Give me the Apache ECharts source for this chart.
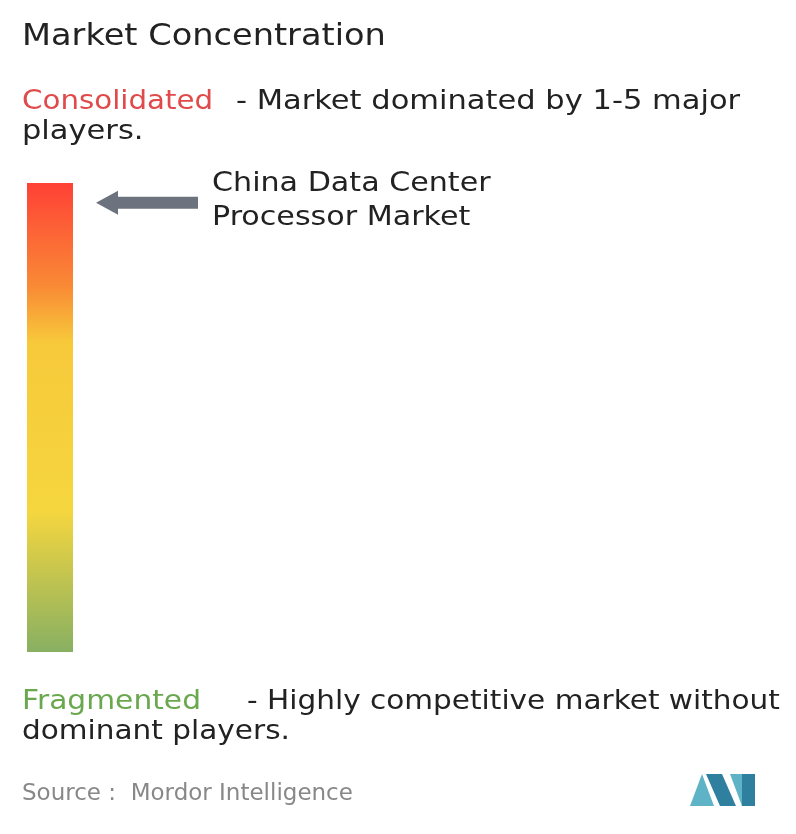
<!DOCTYPE html>
<html><head><meta charset="utf-8">
<script src="https://cdn.jsdelivr.net/npm/echarts@6/dist/echarts.min.js"></script>
<style>html,body{margin:0;padding:0;background:#fff}#c{width:796px;height:834px}</style>
</head><body><div id="c"></div>
<script>
const title = "Market Concentration";
const topLabel = "Consolidated";
const topDesc = ["- Market dominated by 1-5 major", "players."];
const bottomLabel = "Fragmented";
const bottomDesc = ["- Highly competitive market without", "dominant players."];
const marketName = ["China Data Center", "Processor Market"];
const sourceText = "Source :  Mordor Intelligence";
const gradientStops = [[0,'#ff4136'],[0.22,'#f98a35'],[0.34,'#f7c93a'],[0.7,'#f5d63f'],[1,'#88b062']];
const concentration = 0.96; // 1 = fully consolidated

const chart = echarts.init(document.getElementById('c'));
const F = '"DejaVu Sans", sans-serif';
const barTop = 183, barH = 469;
const arrowY = barTop + (1 - concentration) * barH + 1;
function txt(x, y, t, color, size, sx) {
  return {type:'text', x:x, y:y, scaleX:sx||1,
    style:{text:t, x:0, y:0, fill:color, font:`${size}px ${F}`, verticalAlign:'top', align:'left'}};
}
chart.setOption({
  graphic: [
    txt(22, 22, title, '#222', 30, 1.12),
    txt(22, 88, topLabel, '#e04a4a', 27, 1.085),
    txt(236, 88, topDesc[0], '#222', 27, 1.13),
    txt(22, 118, topDesc[1], '#222', 27, 1.13),
    {type:'rect', shape:{x:27, y:barTop, width:46, height:barH},
     style:{fill:new echarts.graphic.LinearGradient(0,0,0,1,gradientStops.map(s=>({offset:s[0],color:s[1]})))}},
    {type:'polygon', shape:{points:[[96,arrowY],[118,arrowY-12],[118,arrowY-6],[198,arrowY-6],[198,arrowY+6],[118,arrowY+6],[118,arrowY+12]]}, style:{fill:'#6d737e'}},
    txt(212, 170, marketName[0], '#222', 27, 1.116),
    txt(212, 204, marketName[1], '#222', 27, 1.116),
    txt(22, 688, bottomLabel, '#6aa84f', 27, 1.1),
    txt(247, 688, bottomDesc[0], '#222', 27, 1.094),
    txt(22, 718, bottomDesc[1], '#222', 27, 1.094),
    txt(22, 783, sourceText, '#888', 23, 1.0),
    {type:'polygon', shape:{points:[[690,806],[702,774],[714,806]]}, style:{fill:'#5fb3c6'}},
    {type:'polygon', shape:{points:[[706,774],[722,774],[736,806],[720,806]]}, style:{fill:'#2f7f9e'}},
    {type:'polygon', shape:{points:[[730,774],[742,774],[742,806]]}, style:{fill:'#5fb3c6'}},
    {type:'polygon', shape:{points:[[742,774],[755,774],[755,806],[742,806]]}, style:{fill:'#2f7f9e'}}
  ]
});
</script></body></html>
